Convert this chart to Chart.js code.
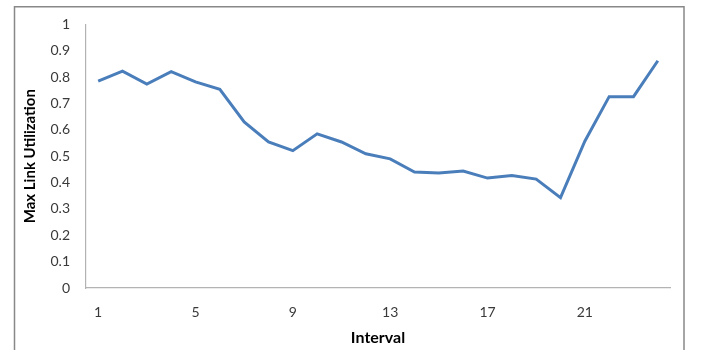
<!DOCTYPE html>
<html>
<head>
<meta charset="utf-8">
<script src="https://cdn.jsdelivr.net/npm/chart.js@4.4.1/dist/chart.umd.min.js"></script>
<style>
  html, body { margin: 0; padding: 0; background: #ffffff; }
  #wrap { width: 702px; height: 350px; position: relative; }
</style>
</head>
<body>
<div id="wrap"><canvas id="chart" width="702" height="350"></canvas></div>
<script>
// Intervals 1..24 and the maximum link utilization measured in each
const intervals = Array.from({ length: 24 }, (_, i) => String(i + 1));
const maxLinkUtilization = [
  0.785, 0.823, 0.774, 0.821, 0.782, 0.754, 0.63, 0.554,
  0.521, 0.585, 0.554, 0.509, 0.49, 0.44, 0.436, 0.444,
  0.417, 0.427, 0.413, 0.343, 0.557, 0.726, 0.726, 0.862
];
const yTickStep = 0.1;
const xLabelEvery = 4;

// Thin grey frame around the whole chart
const framePlugin = {
  id: 'frame',
  beforeDraw(chart) {
    const ctx = chart.ctx;
    ctx.save();
    ctx.fillStyle = '#ffffff';
    ctx.fillRect(0, 0, chart.width, chart.height);
    ctx.strokeStyle = '#888888';
    ctx.lineWidth = 1.5;
    ctx.strokeRect(14.5, 6.75, 669.5, 400);
    ctx.restore();
  }
};

const tickFont = { family: 'Lato, "Open Sans", sans-serif', size: 14 };
const yTitleFont = { family: 'Lato, "Open Sans", sans-serif', size: 15, weight: 'bold' };
const xTitleFont = { family: 'Lato, "Open Sans", sans-serif', size: 16, weight: 'bold' };

new Chart(document.getElementById('chart'), {
  type: 'line',
  data: {
    labels: intervals,
    datasets: [{
      label: 'Max Link Utilization',
      data: maxLinkUtilization,
      borderColor: '#4a7ebb',
      borderWidth: 3,
      pointRadius: 0,
      tension: 0,
      fill: false
    }]
  },
  options: {
    responsive: false,
    animation: false,
    devicePixelRatio: 1,
    layout: { padding: { top: 22, right: 32, bottom: 0, left: 0 } },
    plugins: { legend: { display: false }, tooltip: { enabled: false } },
    scales: {
      x: {
        offset: true,
        grid: { display: false, drawTicks: false },
        border: { display: true, color: '#b3b3b3', width: 1.2 },
        ticks: {
          autoSkip: false,
          maxRotation: 0,
          padding: 16,
          color: '#3a3a3a',
          font: tickFont,
          callback: (v, i) => (i % xLabelEvery === 0 ? intervals[i] : '')
        },
        title: {
          display: true,
          text: 'Interval',
          color: '#000000',
          font: xTitleFont,
          padding: { top: 0, bottom: 3 }
        },
        afterFit(scale) { scale.height = 62; }
      },
      y: {
        min: 0,
        max: 1,
        grid: { display: false, drawTicks: false },
        border: { display: true, color: '#b3b3b3', width: 1.2 },
        ticks: {
          stepSize: yTickStep,
          padding: 16,
          color: '#3a3a3a',
          font: tickFont,
          callback: v => String(Math.round(v * 10) / 10)
        },
        title: {
          display: true,
          text: 'Max Link Utilization',
          color: '#000000',
          font: yTitleFont,
          padding: { top: 21, bottom: 0 }
        },
        afterFit(scale) { scale.width = 86; }
      }
    }
  },
  plugins: [framePlugin]
});
</script>
</body>
</html>
